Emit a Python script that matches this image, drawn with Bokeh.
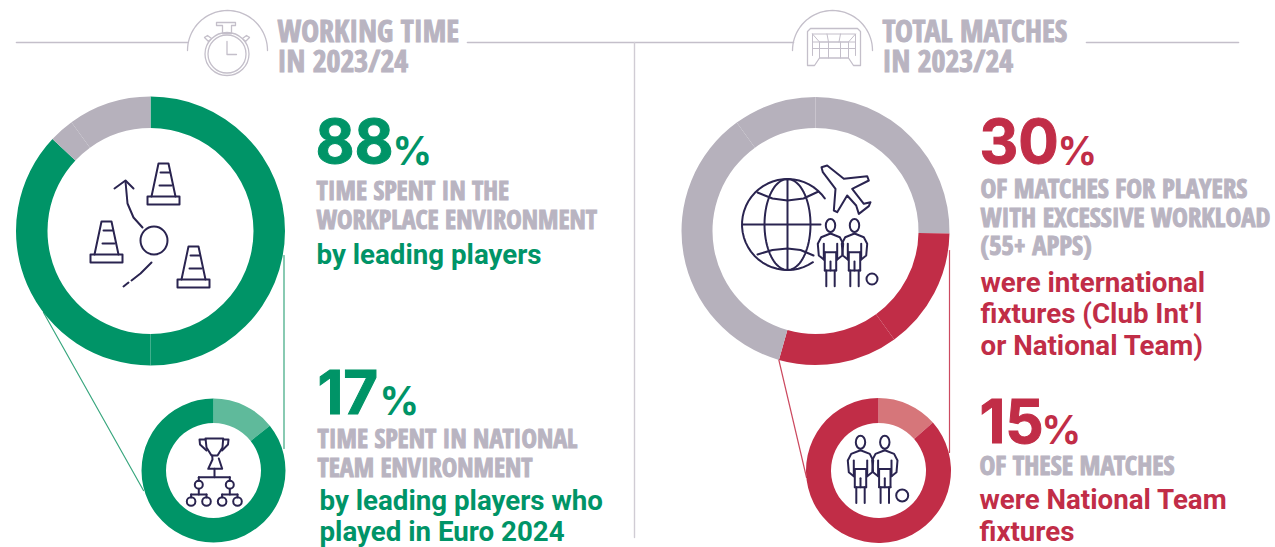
import math
from bokeh.plotting import figure
from bokeh.core.properties import value
from bokeh.embed import file_html
from bokeh.resources import INLINE

W, H = 1275, 547
GREEN, GREEN_L = "#009467", "#5fba9b"
RED, RED_L = "#c12d47", "#d6767a"
GREY, TXT_GREY = "#b6b1bc", "#b9b4c1"
NAVY = "#2a2450"

# ring shares, clockwise from 12 o'clock, in percent
ring_work_share = [50.0, 37.0, 3.0, 10.0]
ring_work_color = [GREEN, GREEN, GREY, GREY]
ring_nat_share = [14.3, 85.7]
ring_nat_color = [GREEN_L, GREEN]
ring_match_share = [25.3, 14.7, 14.4, 35.6, 10.0]
ring_match_color = [GREY, RED, RED, GREY, GREY]
ring_fix_share = [13.5, 86.5]
ring_fix_color = [RED_L, RED]

headers = ["WORKING TIME", "IN 2023/24", "TOTAL MATCHES", "IN 2023/24"]
big_numbers = ["88", "17", "30", "15"]
grey_text = ["TIME SPENT IN THE", "WORKPLACE ENVIRONMENT", "TIME SPENT IN NATIONAL", "TEAM ENVIRONMENT",
             "OF MATCHES FOR PLAYERS", "WITH EXCESSIVE WORKLOAD", "(55+ APPS)", "OF THESE MATCHES"]
green_text = ["by leading players", "by leading players who", "played in Euro 2024"]
red_text = ["were international", "fixtures (Club Int\u2019l", "or National Team)", "were National Team", "fixtures"]

p = figure(width=W, height=H, x_range=(0, W), y_range=(0, H), output_backend="svg",
           toolbar_location=None, min_border=0, outline_line_color=None)
p.axis.visible = False
p.grid.visible = False


def Y(v):
    return H - v


def ln(pts, color=NAVY, w=2.0):
    p.line([a for a, _ in pts], [Y(b) for _, b in pts], line_color=color, line_width=w,
           line_join="round", line_cap="round")


def ell(cx, cy, rx, ry, color=NAVY, w=2.0):
    p.ellipse([cx], [Y(cy)], width=[2 * rx], height=[2 * ry], fill_color=None, line_color=color, line_width=w)


def arc_pts(cx, cy, rx, ry, a0, a1, n=40):
    out = []
    for i in range(n + 1):
        t = math.radians(a0 + (a1 - a0) * i / n)
        out.append((cx + rx * math.sin(t), cy - ry * math.cos(t)))
    return out


def ring(cx, cy, ro, ri, shares, colors):
    a = 0.0
    sa, ea = [], []
    for s in shares:
        sa.append(math.pi / 2 - a / 100 * 2 * math.pi)
        a += s
        ea.append(math.pi / 2 - a / 100 * 2 * math.pi)
    n = len(shares)
    p.annular_wedge([cx] * n, [Y(cy)] * n, inner_radius=ri, outer_radius=ro, start_angle=sa, end_angle=ea,
                    direction="clock", fill_color=colors, line_color=None)


KF = {"Open Sans Condensed": 0.42, "Roboto": 0.33, "Inter": 0.37}


def txt(items, font, size, color, style="bold", outline=None):
    # the renderer sets these fonts lower than the nominal baseline, so each is lifted by its own share of the size
    lift = KF[font] * size
    p.text([a[0] for a in items], [Y(a[1]) + lift for a in items], text=[a[2] for a in items],
           text_font=value(font), text_font_size=value(f"{size}px"), text_font_style=style,
           text_color=color, text_baseline="alphabetic", text_align="left", text_outline_color=outline)


# rules
RULE = "#c4bfca"
ln([(16, 42), (187, 42)], RULE, 1.6)
ln([(467, 42), (793, 42)], RULE, 1.6)
ln([(1086, 42), (1238, 42)], RULE, 1.6)
ln([(634, 42), (634, 537)], "#d0ccd4", 1.4)
ln(arc_pts(227, 50, 40, 40, -90, 90), RULE, 1.3)
ln(arc_pts(832, 50, 40, 40, -90, 90), RULE, 1.3)

# connectors
ln([(283.5, 255), (283.5, 448)], "#3aa77f", 1.2)
ln([(43, 312), (143, 490)], "#3aa77f", 1.2)
ln([(949, 250), (949, 452)], "#cc4a60", 1.2)
ln([(778, 358), (806, 477)], "#cc4a60", 1.2)

# rings
ring(150, 230.5, 134.5, 103, ring_work_share, ring_work_color)
ring(213, 470, 72, 47.5, ring_nat_share, ring_nat_color)
ring(815, 230.5, 134, 103, ring_match_share, ring_match_color)
ring(878, 470, 72.5, 47.5, ring_fix_share, ring_fix_color)


# icons
def stopwatch():
    c = "#c4bfca"
    ell(226.5, 53.5, 22, 21.5, c, 1.3)
    ell(226.5, 53.5, 19, 19, c, 1.3)
    ln([(226.5, 41), (226.5, 54), (236, 54)], c, 1.3)
    ln([(216, 22), (235, 22), (235, 25), (231, 25), (231, 33), (222, 33), (222, 25), (216, 25), (216, 22)], c, 1.3)
    ln([(204, 37), (208, 41), (211, 38), (207, 35), (204, 37)], c, 1.3)
    ln([(249, 37), (245, 41), (242, 38), (246, 35), (249, 37)], c, 1.3)


def goal():
    c = "#c4bfca"
    ln([(807, 65), (807, 31), (810, 28), (857, 28), (860, 31), (860, 65), (853, 65), (848, 57.5), (819, 57.5), (814, 65), (807, 65)], c, 1.3)
    ln([(812, 33.5), (855, 33.5), (855, 55)], c, 1.0)
    ln([(812, 33.5), (812, 55)], c, 1.0)
    ln([(812, 33.5), (819, 41.5), (848, 41.5), (855, 33.5)], c, 1.0)
    ln([(812, 41.5), (855, 41.5)], c, 1.0)
    ln([(812, 48), (855, 48)], c, 1.0)
    for x in (819, 828, 840, 848):
        ln([(x, 41.5), (x, 57.5)], c, 1.0)
    ln([(826.5, 33.5), (828, 41.5)], c, 1.0)
    ln([(840, 33.5), (838.5, 41.5)], c, 1.0)


def cone(cx, top):
    ln([(cx - 16, top + 33), (cx + 16, top + 33), (cx + 16, top + 41), (cx - 16, top + 41), (cx - 16, top + 33)])
    ln([(cx - 12, top + 33), (cx - 5, top), (cx + 5, top), (cx + 12, top + 33)])
    ln([(cx - 3, top + 9), (cx + 6, top + 9)])
    ln([(cx - 4, top + 22), (cx + 8, top + 22)])


def tactic():
    cone(163, 163)
    cone(106, 221)
    cone(193, 246)
    ell(153.5, 240, 13.5, 14)
    ln([(142, 227), (133, 217), (127, 203), (125, 181)])
    ln([(114, 188), (125, 180), (133, 188)])
    ln([(151, 262), (140, 273), (131, 280)])
    ln([(128, 282), (123, 286)])


def player(cx, hy):
    ell(cx, hy, 4.7, 6.5)
    for s in (-1, 1):
        ln([(cx, hy + 8), (cx + s * 9.3, hy + 11.7), (cx + s * 12.7, hy + 18.3), (cx + s * 11.7, hy + 30),
            (cx + s * 6.7, hy + 34)])
        ln([(cx + s * 6.7, hy + 18.3), (cx + s * 6.7, hy + 34)])
        ln([(cx + s * 5.7, hy + 26.7), (cx + s * 5.7, hy + 45)])
        ln([(cx + s * 4.2, hy + 45), (cx + s * 4.2, hy + 60.7)])
    ln([(cx - 5.7, hy + 26.7), (cx + 5.7, hy + 26.7)])
    ln([(cx - 5.7, hy + 45), (cx + 5.7, hy + 45)])
    ln([(cx, hy + 36), (cx, hy + 45)])


def globe_plane():
    ln(arc_pts(787, 224, 45.5, 45.5, 55, -214))
    ln([(787, 178.5), (787, 269.5)])
    ln(arc_pts(787, 224, 23, 45.5, 0, 360, 80))
    ln([(742, 224), (820, 224)])
    ln([(757, 192), (772, 198), (787, 200), (803, 198), (818, 191)])
    ln([(757, 254), (772, 249.5), (787, 248), (800, 249.5), (813, 255)])
    plane_x = [258, 275, 325, 395, 400, 350, 385, 405, 400, 370, 362, 335, 305, 295, 300, 262, 258]
    plane_y = [35, 30, 70, 62, 75, 100, 145, 140, 152, 175, 150, 120, 170, 165, 100, 50, 35]
    ln([(735 + a / 3, 155 + b / 3) for a, b in zip(plane_x, plane_y)])


def trophy():
    ln([(205, 438), (222.7, 438), (222, 447), (217, 455), (211, 455), (206, 447), (205, 438)])
    ln([(205, 439), (199, 439), (199.5, 444), (206, 450)])
    ln([(222.7, 439), (228, 439), (227.5, 444), (221.5, 450)])
    ln([(211.7, 455), (212, 459), (207.7, 468.3), (221.7, 468.3), (218.3, 458)])
    ln([(214, 468.3), (214, 476.7)])
    ln([(198.3, 476.7), (229.3, 476.7)])
    for x in (198.3, 229.3):
        ln([(x, 476.7), (x, 480.3)])
        ell(x, 484.3, 4, 4)
        ln([(x, 488.3), (x, 494)])
        ln([(x - 7.7, 494), (x + 7.7, 494)])
        for dx in (-7.7, 7.7):
            ln([(x + dx, 494), (x + dx, 497)])
            ell(x + dx, 501, 4.3, 4.3)


stopwatch()
goal()
tactic()
trophy()
globe_plane()
player(830, 225)
player(854, 225)
ell(871.5, 278.5, 5.5, 5.5)
player(860, 441.7)
player(884.3, 441.7)
ell(901.7, 495, 6, 6)

# text
COND = "Open Sans Condensed"
BODY = "Roboto"
BIG = "Inter"
txt([(277, 43, headers[0]), (277, 73, headers[1]), (882, 43, headers[2]), (882, 73, headers[3])], COND, 30, TXT_GREY, outline=TXT_GREY)
txt([(316, 200, grey_text[0]), (316, 229, grey_text[1]), (317, 448, grey_text[2]), (317, 477, grey_text[3])], COND, 26, TXT_GREY, outline=TXT_GREY)
txt([(980, 199, grey_text[4]), (980, 228, grey_text[5]), (980, 256, grey_text[6]), (979, 476, grey_text[7])], COND, 26.6, TXT_GREY, outline=TXT_GREY)
txt([(315, 163, big_numbers[0]), (317, 414, big_numbers[1])], BIG, 60, GREEN, outline=GREEN)
txt([(979, 163, big_numbers[2]), (979, 443, big_numbers[3])], BIG, 60, RED, outline=RED)
txt([(392, 164, "%"), (379, 414, "%")], BIG, 39, GREEN)
txt([(1057, 164, "%"), (1041, 443, "%")], BIG, 39, RED)
txt([(316, 263, green_text[0]), (319, 509, green_text[1]), (319, 540, green_text[2])], BODY, 27.7, GREEN)
txt([(980, 291, red_text[0]), (980, 322, red_text[1]), (980, 354, red_text[2]), (979, 508, red_text[3]), (979, 540, red_text[4])], BODY, 27.7, RED)

open("out.html", "w").write(file_html(p, INLINE))
